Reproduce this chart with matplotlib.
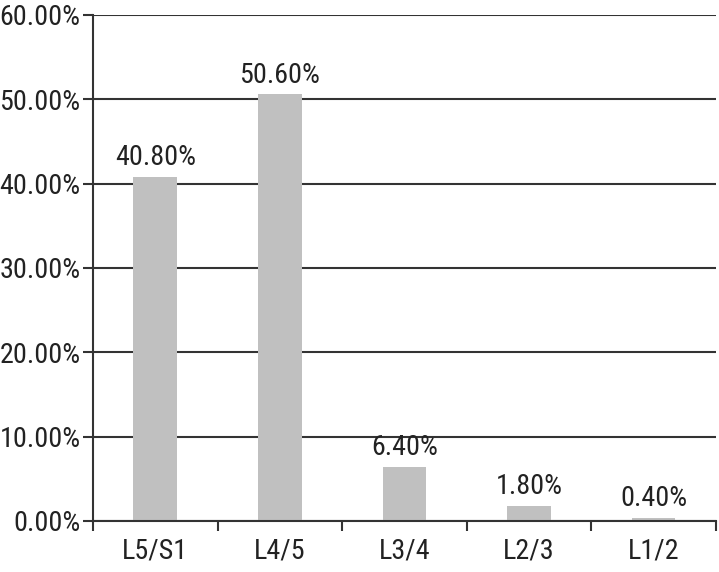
import matplotlib
matplotlib.use("Agg")
import numpy as np
import matplotlib.pyplot as plt
from matplotlib import font_manager
from matplotlib.ticker import FuncFormatter

levels = ["L5/S1", "L4/5", "L3/4", "L2/3", "L1/2"]
percent = [40.80, 50.60, 6.40, 1.80, 0.40]
y_ticks = [0, 10, 20, 30, 40, 50, 60]

# pick a narrow face if one is installed
names = {f.name: f for f in font_manager.fontManager.ttflist}
choice = None
for want in ['Liberation Sans Narrow', 'Roboto Condensed', 'Open Sans Condensed',
             'DejaVu Sans Condensed']:
    if want in names:
        choice = names[want]
        break
if choice is None:
    cands = [f for f in font_manager.fontManager.ttflist
             if str(f.stretch) in ('condensed', 'semi-condensed')
             and f.style == 'normal' and f.weight in (400, 'normal')]
    choice = cands[0] if cands else names.get('Liberation Sans')
fam = choice.name if choice else 'DejaVu Sans'
stretch = choice.stretch if choice else 'normal'

plt.rcParams['font.family'] = [fam, 'DejaVu Sans']
plt.rcParams['font.stretch'] = stretch

fig = plt.figure(figsize=(7.19, 5.72), dpi=100)


def fit_size(s, width_px):
    # font size that makes s about width_px wide
    probe = fig.text(0, 0, s, fontsize=20)
    w = probe.get_window_extent(fig.canvas.get_renderer()).width
    probe.remove()
    return min(21, 20 * width_px / w)


fs = fit_size("60.00%", 81)

ax = fig.add_axes([0.1293, 0.0892, 0.9958 - 0.1293, 0.9738 - 0.0892])

x = np.arange(len(levels))
ax.bar(x, percent, width=0.35, color="#c0c0c0", zorder=2)
for xi, v in zip(x, percent):
    ax.annotate("%.2f%%" % v, (xi, v), xytext=(0, 4),
                textcoords="offset points", ha="center", va="bottom",
                color="#222222", fontsize=fs)

ax.set_xlim(-0.5, len(levels) - 0.5)
ax.set_ylim(0, 60)
ax.set_yticks(y_ticks)
ax.yaxis.set_major_formatter(FuncFormatter(lambda v, p: "%.2f%%" % v))
ax.yaxis.grid(True, color="#333333", linewidth=1.5, zorder=0)

ax.set_xticks(x)
ax.set_xticklabels(levels)
ax.set_xticks(np.arange(len(levels) + 1) - 0.5, minor=True)
ax.tick_params(axis="x", which="major", length=0, pad=12, colors="#222222",
               labelsize=fs)
ax.tick_params(axis="x", which="minor", length=7, width=1.5, color="#333333")
ax.tick_params(axis="y", length=7, width=1.5, color="#333333",
               labelcolor="#222222", pad=2, labelsize=fs)

for s in ["top", "right"]:
    ax.spines[s].set_visible(False)
for s in ["left", "bottom"]:
    ax.spines[s].set_color("#333333")
    ax.spines[s].set_linewidth(1.5)

fig.savefig("out.png", dpi=100)
